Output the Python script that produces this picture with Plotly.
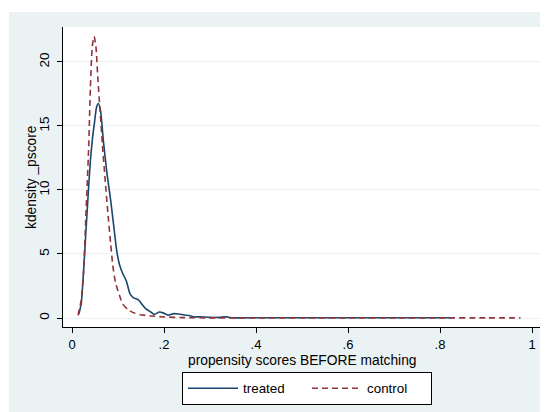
import plotly.graph_objects as go

# Kernel density of propensity score, treated group
x_treated = [0.015, 0.0175, 0.020, 0.025, 0.030, 0.035, 0.040, 0.045, 0.049, 0.053, 0.057,
             0.062, 0.068, 0.076, 0.084, 0.091, 0.097, 0.103, 0.110, 0.118, 0.126, 0.133,
             0.145, 0.152, 0.160, 0.171, 0.179, 0.190, 0.198, 0.209, 0.221, 0.232, 0.244,
             0.255, 0.266, 0.278, 0.300, 0.320, 0.335, 0.346, 0.40, 0.50, 0.60, 0.70, 0.80, 0.826]
y_treated = [0.3, 0.7, 1.1, 3.6, 6.6, 9.6, 12.3, 14.2, 15.3, 16.4, 16.75,
             16.2, 13.9, 11.3, 9.2, 7.1, 5.3, 4.2, 3.5, 2.9, 1.9, 1.6,
             1.4, 1.07, 0.73, 0.47, 0.28, 0.47, 0.4, 0.22, 0.34, 0.31, 0.23,
             0.2, 0.08, 0.1, 0.05, 0.05, 0.09, 0.02, 0.02, 0.02, 0.02, 0.02, 0.02, 0.02]

# Kernel density of propensity score, control group
x_control = [0.013, 0.020, 0.025, 0.030, 0.036, 0.040, 0.044, 0.048, 0.052, 0.056,
             0.061, 0.066, 0.072, 0.078, 0.084, 0.089, 0.095, 0.103, 0.110, 0.122,
             0.133, 0.148, 0.171, 0.202, 0.240, 0.300, 0.40, 0.50, 0.60, 0.70, 0.80, 0.90, 0.975]
y_control = [0.2, 1.4, 3.5, 7.9, 13.1, 18.0, 21.2, 22.0, 21.2, 18.8,
             16.2, 13.6, 10.8, 8.2, 5.8, 4.0, 2.7, 1.8, 1.1, 0.65,
             0.42, 0.26, 0.16, 0.08, 0.03, 0.01, 0.01, 0.01, 0.01, 0.01, 0.01, 0.01, 0.01]

x_ticks = [0, 0.2, 0.4, 0.6, 0.8, 1]
x_ticklabels = ["0", ".2", ".4", ".6", ".8", "1"]
y_ticks = [0, 5, 10, 15, 20]
y_ticklabels = ["0", "5", "10", "15", "20"]

BG = "#EAF2F3"
NAVY = "#1A476F"
MAROON = "#90353B"
FONT = "Liberation Sans, Arial, sans-serif"
FS = 13.8

fig = go.Figure()
fig.add_trace(go.Scatter(x=x_treated, y=y_treated, mode="lines", name="treated",
                         line=dict(color=NAVY, width=1.6, shape="spline", smoothing=0.6)))
fig.add_trace(go.Scatter(x=x_control, y=y_control, mode="lines", name="control",
                         line=dict(color=MAROON, width=1.6, dash="6px,4px",
                                   shape="spline", smoothing=0.6)))

# page has an 8px body margin; figure occupies page (8..548, 8..412)
OFF = 8
W, H = 540, 404
L, R, T, B = 55, 8, 19, 85
pw, ph = W - L - R, H - T - B

def px_x(page_x):
    return (page_x - OFF - L) / pw

def px_y(page_y):
    return (H - B - (page_y - OFF)) / ph

# thin white strips left/top outside Stata's light background
fig.add_shape(type="rect", xref="paper", yref="paper", layer="above",
              x0=px_x(8), x1=px_x(9), y0=px_y(412), y1=px_y(8),
              fillcolor="white", line_width=0)
fig.add_shape(type="rect", xref="paper", yref="paper", layer="above",
              x0=px_x(8), x1=px_x(548), y0=px_y(12), y1=px_y(8),
              fillcolor="white", line_width=0)

fig.add_annotation(text="propensity scores BEFORE matching", xref="paper", yref="paper",
                   x=px_x(302), y=px_y(360), xanchor="center", yanchor="middle",
                   showarrow=False, font=dict(size=FS))
fig.add_annotation(text="kdensity _pscore", xref="paper", yref="paper",
                   x=px_x(31), y=0.5, xanchor="center", yanchor="middle", textangle=-90,
                   showarrow=False, font=dict(size=FS))

fig.update_layout(
    width=W, height=H,
    margin=dict(l=L, r=R, t=T, b=B, autoexpand=False),
    paper_bgcolor=BG, plot_bgcolor="white",
    font=dict(family=FONT, size=FS, color="black"),
    showlegend=True,
    legend=dict(orientation="h", x=px_x(182), xanchor="left", y=px_y(372), yanchor="top",
                bgcolor="white", bordercolor="black", borderwidth=1,
                itemwidth=50, entrywidth=59, font=dict(size=13.4), tracegroupgap=0),
)
fig.update_xaxes(range=[-0.0196, 1.0174], tickvals=x_ticks, ticktext=x_ticklabels,
                 showgrid=False, zeroline=False, showline=True, linecolor="black", linewidth=1,
                 ticks="outside", ticklen=5, tickcolor="black", tickfont=dict(size=13))
fig.update_yaxes(range=[-0.703, 22.73], tickvals=y_ticks, ticktext=y_ticklabels,
                 showgrid=True, gridcolor=BG, gridwidth=1, zeroline=False,
                 showline=True, linecolor="black", linewidth=1,
                 ticks="outside", ticklen=5, tickcolor="black", tickangle=-90,
                 ticklabelstandoff=3, tickfont=dict(size=13.5))

fig.write_html("out.html")
